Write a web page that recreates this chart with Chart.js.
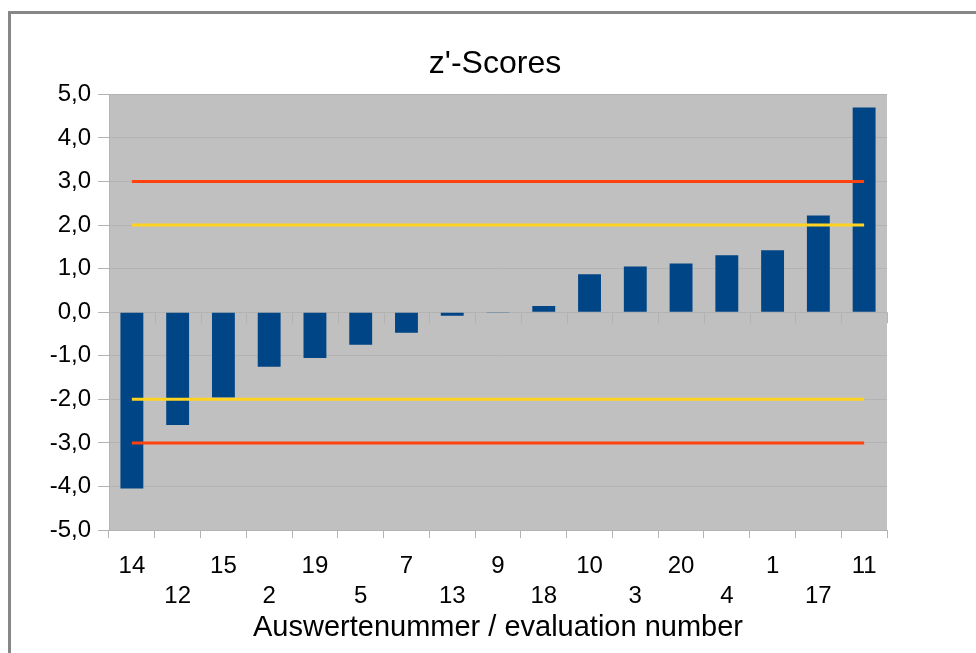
<!DOCTYPE html>
<html>
<head>
<meta charset="utf-8">
<script src="https://cdn.jsdelivr.net/npm/chart.js@4"></script>
<style>
  html, body { margin: 0; padding: 0; background: #fff; overflow: hidden; }
  #frame {
    position: absolute; left: 8px; top: 11px;
    width: 1100px; height: 800px;
    border: 3px solid #878787;
  }
  #zChart { position: absolute; left: 0; top: 0; }
</style>
</head>
<body>
<div id="frame"></div>
<canvas id="zChart" width="990" height="653"></canvas>
<script>
// Auswertenummern (sortiert nach z'-Score)
const categories = ["14", "12", "15", "2", "19", "5", "7", "13", "9", "18", "10", "3", "20", "4", "1", "17", "11"];
// z'-Scores
const zScores = [-4.05, -2.59, -1.96, -1.25, -1.05, -0.75, -0.47, -0.08, -0.02, 0.14, 0.87, 1.05, 1.12, 1.31, 1.42, 2.22, 4.70];
// Grenzen
const warnLimit = 2;
const actionLimit = 3;
const yTicks = [-5, -4, -3, -2, -1, 0, 1, 2, 3, 4, 5];

// Beschriftungen abwechselnd in zwei Zeilen
const labels = categories.map((c, i) => i % 2 === 0 ? [c, ""] : ["", c]);

function limitLine(value, color) {
  return {
    type: "line",
    data: categories.map(() => value),
    borderColor: color,
    borderWidth: 3,
    pointRadius: 0,
    fill: false,
    order: 0
  };
}

// Hintergrund der Zeichenfläche
const plotBackground = {
  id: "plotBackground",
  beforeDraw(chart) {
    const a = chart.chartArea;
    const ctx = chart.ctx;
    ctx.save();
    ctx.fillStyle = "#c0c0c0";
    ctx.fillRect(a.left, a.top, a.right - a.left, a.bottom - a.top);
    ctx.restore();
  }
};

// kleine Striche an der Nulllinie
const zeroTicks = {
  id: "zeroTicks",
  afterDatasetsDraw(chart) {
    const x = chart.scales.x, y = chart.scales.y;
    const y0 = y.getPixelForValue(0);
    const half = (x.getPixelForValue(1) - x.getPixelForValue(0)) / 2;
    const ctx = chart.ctx;
    ctx.save();
    ctx.strokeStyle = "#b3b3b3";
    ctx.lineWidth = 1;
    ctx.beginPath();
    for (let i = 0; i <= categories.length; i++) {
      const px = Math.round(x.getPixelForValue(0) - half + i * half * 2) + 0.5;
      ctx.moveTo(px, y0);
      ctx.lineTo(px, y0 + 11);
    }
    ctx.stroke();
    ctx.restore();
  }
};

const ctx = document.getElementById("zChart").getContext("2d");
const zChart = new Chart(ctx, {
  data: {
    labels: labels,
    datasets: [
      limitLine(actionLimit, "#ff420e"),
      limitLine(warnLimit, "#ffd320"),
      limitLine(-warnLimit, "#ffd320"),
      limitLine(-actionLimit, "#ff420e"),
      {
        type: "bar",
        data: zScores,
        backgroundColor: "#004586",
        barPercentage: 0.5,
        categoryPercentage: 1.0,
        order: 1
      }
    ]
  },
  options: {
    responsive: false,
    devicePixelRatio: 1,
    animation: false,
    layout: { padding: 0 },
    plugins: {
      legend: { display: false },
      tooltip: { enabled: false },
      title: {
        display: true,
        text: "z'-Scores",
        color: "#000",
        font: { family: "'Liberation Sans', Arial, sans-serif", size: 32, weight: "normal" },
        padding: { top: 45, bottom: 11 }
      }
    },
    scales: {
      x: {
        offset: true,
        afterFit(scale) { scale.height = 123; },
        grid: { offset: true, drawOnChartArea: false, tickLength: 8, color: "#b3b3b3" },
        border: { color: "#b3b3b3" },
        ticks: {
          autoSkip: false,
          maxRotation: 0,
          padding: 13,
          color: "#000",
          font: { family: "'Liberation Sans', Arial, sans-serif", size: 24, lineHeight: 1.25 }
        },
        title: {
          display: true,
          text: "Auswertenummer / evaluation number",
          color: "#000",
          font: { family: "'Liberation Sans', Arial, sans-serif", size: 29 },
          padding: { top: 0, bottom: 8 }
        }
      },
      y: {
        min: -5,
        max: 5,
        afterBuildTicks(scale) { scale.ticks = yTicks.map(v => ({ value: v })); },
        afterFit(scale) { scale.width = 109; },
        grid: { color: "#b3b3b3", tickLength: 11 },
        border: { color: "#b3b3b3" },
        ticks: {
          padding: 7,
          color: "#000",
          font: { family: "'Liberation Sans', Arial, sans-serif", size: 24 },
          callback: v => v.toFixed(1).replace(".", ",")
        }
      },
      yRight: {
        type: "linear",
        position: "right",
        afterFit(scale) { scale.width = 103; },
        grid: { display: false, drawTicks: false },
        border: { display: false },
        ticks: { display: false }
      }
    }
  },
  plugins: [plotBackground, zeroTicks]
});
</script>
</body>
</html>
